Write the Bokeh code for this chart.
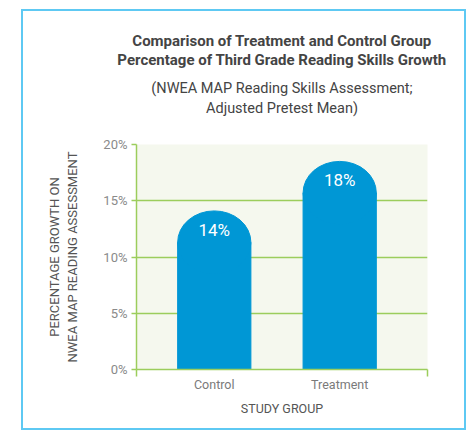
from bokeh.plotting import figure
from bokeh.models import Range1d, FixedTicker, Title, ColumnDataSource
from bokeh.embed import file_html
from bokeh.resources import INLINE
from bokeh.core.properties import value

# ---- data ----
categories = ["Control", "Treatment"]
growth = [14.1, 18.5]
value_labels = ["14%", "18%"]
y_ticks = [0, 5, 10, 15, 20]
y_tick_labels = ["0%", "5%", "10%", "15%", "20%"]
title_lines = ["Comparison of Treatment and Control Group",
               "Percentage of Third Grade Reading Skills Growth"]
subtitle_lines = ["(NWEA MAP Reading Skills Assessment;",
                  "Adjusted Pretest Mean)"]
x_title = "STUDY GROUP"
y_title = "PERCENTAGE GROWTH ON\nNWEA MAP READING ASSESSMENT"

# ---- styles ----
BLUE = "#0097d5"
GREEN = "#9ccd5c"
BG = "#f5f8ee"
FONT = "Roboto"
BAR_W = 0.584
CAP = 2.8

xs = list(range(len(categories)))
src = ColumnDataSource(dict(
    x=xs,
    top=growth,
    body=[g - CAP for g in growth],
    label=value_labels,
))

x_start, x_end = -0.62, 1.70
p = figure(width=445, height=421, output_backend="svg", toolbar_location=None,
           x_range=Range1d(x_start, x_end), y_range=Range1d(y_ticks[0], y_ticks[-1]),
           min_border_left=113, min_border_right=41, min_border_top=133,
           min_border_bottom=63)
p.margin = (9, 0, 0, 21)
p.styles = {"border": "2px solid #5ec9f3"}
p.background_fill_color = BG
p.border_fill_color = "white"
p.outline_line_color = None

p.vbar(x="x", top="body", bottom=0, width=BAR_W, color=BLUE, source=src)
p.ellipse(x="x", y="body", width=BAR_W, height=2 * CAP, color=BLUE, source=src)
p.text(x="x", y="top", text="label", source=src, y_offset=19,
       text_align="center", text_baseline="middle", text_color="white",
       text_font=value(FONT), text_font_size="17px")

# grid
p.xgrid.grid_line_color = None
p.ygrid.ticker = FixedTicker(ticks=y_ticks)
p.ygrid.grid_line_color = GREEN
p.ygrid.grid_line_width = 1.5

# y axis
ya = p.yaxis[0]
ya.ticker = FixedTicker(ticks=y_ticks)
ya.major_label_overrides = dict(zip(y_ticks, y_tick_labels))
ya.axis_line_color = GREEN
ya.axis_line_width = 1.5
ya.major_tick_line_color = GREEN
ya.major_tick_line_width = 1.5
ya.major_tick_in = 0
ya.major_tick_out = 5
ya.minor_tick_line_color = None
ya.major_label_text_font = FONT
ya.major_label_text_font_size = "13px"
ya.major_label_text_color = "#8a8a8a"
ya.major_label_standoff = 4
ya.axis_label = y_title
ya.axis_label_text_font = FONT
ya.axis_label_text_font_size = "13px"
ya.axis_label_text_font_style = "normal"
ya.axis_label_text_color = "#555555"
ya.axis_label_standoff = 20

# x axis
xa = p.xaxis[0]
xa.ticker = FixedTicker(ticks=xs, minor_ticks=[x_start, x_end])
xa.major_label_overrides = dict(zip(xs, categories))
xa.axis_line_color = GREEN
xa.axis_line_width = 1.5
xa.major_tick_line_color = None
xa.minor_tick_line_color = GREEN
xa.minor_tick_line_width = 1.5
xa.minor_tick_in = 0
xa.minor_tick_out = 7
xa.major_label_text_font = FONT
xa.major_label_text_font_size = "12.5px"
xa.major_label_text_color = "#7a7a7a"
xa.major_label_standoff = 0
xa.axis_label = x_title
xa.axis_label_text_font = FONT
xa.axis_label_text_font_size = "12.5px"
xa.axis_label_text_font_style = "normal"
xa.axis_label_text_color = "#555555"
xa.axis_label_standoff = 6

# titles: stacked outward from the frame (first added sits nearest the frame)
def spacer(gap):
    return Title(text=" ", text_font_size="1px", standoff=gap, text_color="white")

def head(text, size, style, standoff):
    return Title(text=text, align="center", text_font=FONT,
                 text_font_size=size, text_font_style=style,
                 text_color="#444444", standoff=standoff)

p.add_layout(spacer(24), "above")
p.add_layout(head(subtitle_lines[1], "14.5px", "normal", 1), "above")
p.add_layout(head(subtitle_lines[0], "14.5px", "normal", 1), "above")
p.add_layout(spacer(6), "above")
p.add_layout(head(title_lines[1], "15px", "bold", -1), "above")
p.add_layout(head(title_lines[0], "15px", "bold", -1), "above")

open("out.html", "w").write(file_html(p, INLINE))
